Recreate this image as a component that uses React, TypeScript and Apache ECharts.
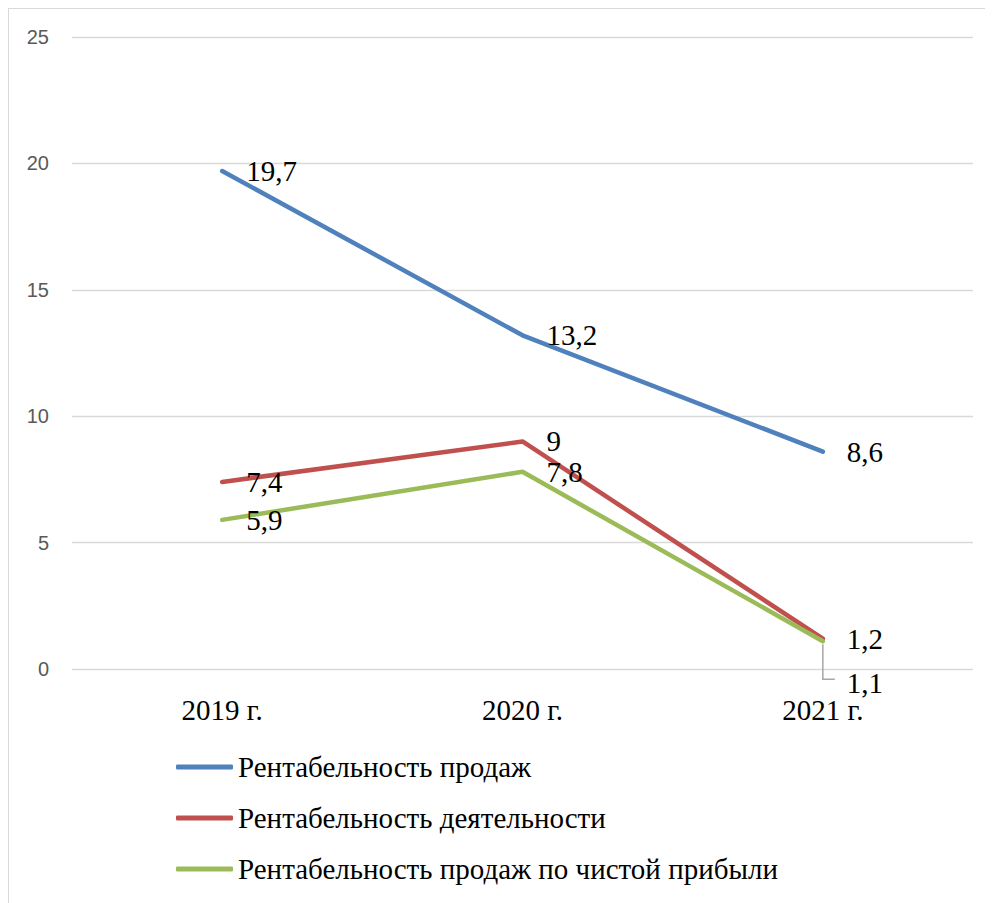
import React, { useEffect, useRef } from "react";
import * as echarts from "echarts";

const years = ["2019 г.", "2020 г.", "2021 г."];
const salesProfitability = [19.7, 13.2, 8.6];
const operatingProfitability = [7.4, 9, 1.2];
const netProfitability = [5.9, 7.8, 1.1];
const seriesNames = [
  "Рентабельность продаж",
  "Рентабельность деятельности",
  "Рентабельность продаж по чистой прибыли",
];
const colors = ["#4F81BD", "#C0504D", "#9BBB59"];

const SERIF = "serif";
const SANS = "sans-serif";
const LABEL_SHIFT = 42; // the 2021 net-profit label sits below its point

const fmt = (p: any) => String(p.value).replace(".", ",");

export default function App() {
  const ref = useRef<HTMLDivElement>(null);

  useEffect(() => {
    if (!ref.current) return;
    const chart = echarts.init(ref.current, undefined, { renderer: "svg" });

    const baseLabel = {
      show: true,
      position: "right",
      distance: 24,
      formatter: fmt,
      fontFamily: SERIF,
      fontSize: 29,
      color: "#000",
    };

    const makeSeries = (name: string, data: any[], color: string, extra: any = {}) => ({
      name,
      type: "line",
      data,
      symbol: "circle",
      symbolSize: 0,
      showSymbol: true,
      lineStyle: { color, width: 4.5, cap: "round", join: "round" },
      itemStyle: { color },
      label: baseLabel,
      ...extra,
    });

    chart.setOption({
      animation: false,
      color: colors,
      textStyle: { fontFamily: SERIF },
      grid: { left: 63, top: 28, right: 20, bottom: 234, containLabel: false },
      xAxis: {
        type: "category",
        data: years,
        boundaryGap: true,
        axisLine: { show: false },
        axisTick: { show: false },
        axisLabel: {
          fontFamily: SERIF,
          fontSize: 29,
          color: "#000",
          margin: 26,
        },
      },
      yAxis: {
        type: "value",
        min: 0,
        max: 25,
        interval: 5,
        axisLine: { show: false },
        axisTick: { show: false },
        splitLine: { lineStyle: { color: "#d9d9d9", width: 1.3 } },
        axisLabel: {
          fontFamily: SANS,
          fontSize: 20,
          color: "#595959",
          margin: 23,
        },
      },
      legend: {
        orient: "vertical",
        left: 162,
        top: 738,
        itemWidth: 57,
        itemHeight: 5,
        itemGap: 21,
        icon: "roundRect",
        data: seriesNames,
        textStyle: {
          fontFamily: SERIF,
          fontSize: 29,
          lineHeight: 30,
          color: "#000",
        },
      },
      series: [
        makeSeries(seriesNames[0], salesProfitability, colors[0]),
        makeSeries(seriesNames[1], operatingProfitability, colors[1]),
        makeSeries(seriesNames[2], netProfitability, colors[2], {
          labelLayout: (p: any) => (p.dataIndex === 2 ? { dy: LABEL_SHIFT } : {}),
        }),
      ],
    });

    // elbow leader line for the shifted label
    const pt = chart.convertToPixel({ seriesIndex: 2 }, [2, netProfitability[2]]) as number[];
    if (pt) {
      const [px, py] = pt;
      chart.setOption({
        graphic: [
          {
            type: "polyline",
            silent: true,
            shape: {
              points: [
                [px, py + 3],
                [px, py + LABEL_SHIFT - 4],
                [px + 12, py + LABEL_SHIFT - 4],
              ],
            },
            style: { stroke: "#a6a6a6", lineWidth: 1.5, fill: "none" },
          },
        ],
      });
    }

    return () => chart.dispose();
  }, []);

  return (
    <div
      style={{
        width: 985,
        height: 895,
        boxSizing: "border-box",
        borderTop: "1px solid #d9d9d9",
        borderLeft: "1px solid #d9d9d9",
        background: "#fff",
      }}
    >
      <div ref={ref} style={{ width: 984, height: 894 }} />
    </div>
  );
}
